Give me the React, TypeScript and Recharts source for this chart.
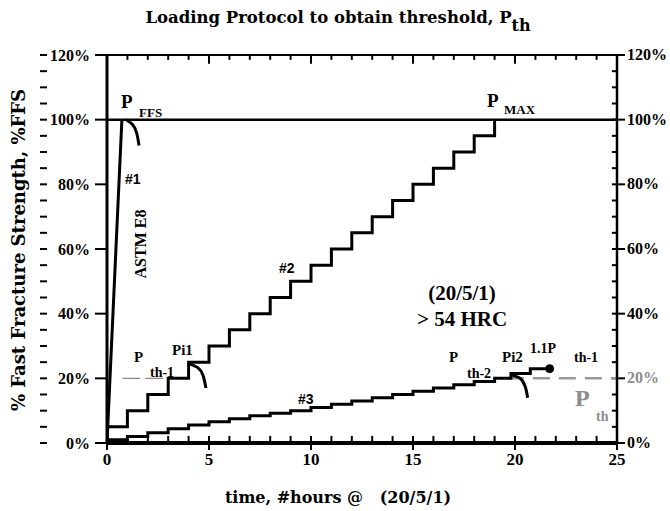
import React from 'react';
import { LineChart, Line, XAxis, YAxis, ReferenceDot, ReferenceLine } from 'recharts';

// axis ticks
const X_TICKS = [0, 5, 10, 15, 20, 25];
const X_MINOR = [0, 1, 2, 3, 4, 5, 6, 7, 8, 9, 10, 11, 12, 13, 14, 15, 16, 17, 18, 19, 20, 21, 22, 23, 24, 25];
const Y_TICKS = [0, 20, 40, 60, 80, 100, 120];
const Y_MINOR = [0, 5, 10, 15, 20, 25, 30, 35, 40, 45, 50, 55, 60, 65, 70, 75, 80, 85, 90, 95, 100, 105, 110, 115, 120];

// #1 ASTM E8 ramp
const astmHours = [0, 0.73];
const astmLoad = [0, 100];
// P_FFS / P_MAX level
const ffsHours = [0, 25];
const ffsLoad = [100, 100];
// #2 step loading
const step2Hours = [0, 0, 1, 2, 3, 4, 5, 6, 7, 8, 9, 10, 11, 12, 13, 14, 15, 16, 17, 18, 19];
const step2Load = [0, 5, 10, 15, 20, 25, 30, 35, 40, 45, 50, 55, 60, 65, 70, 75, 80, 85, 90, 95, 100];
// #3 step loading
const step3Hours = [0, 0, 1, 2, 3, 4, 5, 6, 7, 8, 9, 10, 11, 12, 13, 14, 15, 16, 17, 18, 19, 19.8, 20.75, 21.7];
const step3Load = [0, 1, 2, 3.2, 4.4, 5.6, 6.6, 7.5, 8.4, 9.2, 10, 11, 12, 13, 14, 15, 16, 17, 18, 19, 20, 21.5, 23, 23];
// fracture arcs
const ffsArcHours = [0.95, 1.25, 1.45, 1.57];
const ffsArcLoad = [100, 98.5, 96, 92];
const pi1ArcHours = [4.05, 4.45, 4.7, 4.85];
const pi1ArcLoad = [24.5, 23.3, 21, 17];
const pi2ArcHours = [19.85, 20.25, 20.5, 20.62];
const pi2ArcLoad = [21, 20, 17.5, 14];
// threshold guides
const thHours = [0.75, 3];
const thLoad = [20, 20];
const pthHours = [19.6, 25];
const pthLoad = [20, 20];

const toPts = (xs: number[], ys: number[]) => xs.map((x, i) => ({ x, y: ys[i] }));

const SERIF = '"Liberation Serif", "Times New Roman", serif';
const WIDE_SERIF = '"DejaVu Serif", serif';
const SANS = '"Liberation Sans", Arial, sans-serif';

const W = 670;
const H = 511;

const RightTick = (props: any) => {
  const { x, y, payload } = props;
  return (
    <text x={x} y={y} dy={5} textAnchor="start" fontFamily={SERIF} fontWeight="bold" fontSize={16}
      fill={payload.value === 20 ? '#8c8c8c' : '#000'}>
      {payload.value + '%'}
    </text>
  );
};

// minor axis draws only tick marks
const EmptyTick = () => <g />;

const lineProps = {
  xAxisId: 'x',
  yAxisId: 'y',
  dataKey: 'y',
  stroke: '#000',
  strokeWidth: 3,
  dot: false,
  isAnimationActive: false,
  legendType: 'none' as const,
};

const tickLn = { stroke: '#000', strokeWidth: 2 };

// inward frame ticks (top, bottom, right) as short segments in data units
const frameTicks = [
  ...X_MINOR.map((h) => [{ x: h, y: 120 }, { x: h, y: X_TICKS.includes(h) ? 117.3 : 118.5 }]),
  ...X_MINOR.map((h) => [{ x: h, y: 0 }, { x: h, y: 2.2 }]),
  ...Y_MINOR.map((v) => [{ x: 25, y: v }, { x: 24.75, y: v }]),
];

function Annotations() {
  const b = { fontFamily: SERIF, fontWeight: 'bold' as const, fill: '#000' };
  return (
    <svg width={W} height={H} style={{ position: 'absolute', left: 0, top: 0, pointerEvents: 'none' }}>
      <text x={338} y={23} textAnchor="middle" fontFamily={WIDE_SERIF} fontWeight="bold" fontSize={16.5}>
        Loading Protocol to obtain threshold, P<tspan fontSize={16} dy={8}>th</tspan>
      </text>
      <text x={338} y={503} textAnchor="middle" fontFamily={WIDE_SERIF} fontWeight="bold" fontSize={16}>
        time, #hours @{'\u00a0\u00a0\u00a0'}(20/5/1)
      </text>
      <text x={0} y={0} transform="translate(25,250) rotate(-90)" textAnchor="middle" fontFamily={WIDE_SERIF}
        fontWeight="bold" fontSize={18}>
        % Fast Fracture Strength, %FFS
      </text>

      <text x={121} y={108} {...b} fontSize={19}>P</text>
      <text x={139} y={117} {...b} fontSize={13}>FFS</text>
      <text x={487} y={107} {...b} fontSize={19}>P</text>
      <text x={504} y={114} {...b} fontSize={13}>MAX</text>

      <text x={125} y={184} fontFamily={SANS} fontWeight="bold" fontSize={14}>#1</text>
      <text x={0} y={0} transform="translate(146,244) rotate(-90)" textAnchor="middle" {...b} fontSize={16}>ASTM E8</text>
      <text x={279} y={273} fontFamily={SANS} fontWeight="bold" fontSize={14}>#2</text>
      <text x={298} y={404} fontFamily={SANS} fontWeight="bold" fontSize={14}>#3</text>

      <text x={462} y={300} textAnchor="middle" {...b} fontSize={21}>(20/5/1)</text>
      <text x={462} y={326} textAnchor="middle" {...b} fontSize={21}>&gt; 54 HRC</text>

      <text x={134} y={362} {...b} fontSize={15}>P</text>
      <text x={150} y={377} {...b} fontSize={14}>th-1</text>
      <text x={172} y={355} {...b} fontSize={15}>Pi1</text>

      <text x={449} y={362} {...b} fontSize={15}>P</text>
      <text x={467} y={378} {...b} fontSize={14}>th-2</text>
      <text x={502} y={362} {...b} fontSize={15}>Pi2</text>
      <text x={530} y={353} {...b} fontSize={14}>1.1P</text>
      <text x={574} y={362} {...b} fontSize={14}>th-1</text>

      <text x={575} y={406} fontFamily={SERIF} fontWeight="bold" fontSize={24} fill="#8c8c8c">P</text>
      <text x={596} y={421} fontFamily={SERIF} fontWeight="bold" fontSize={14} fill="#8c8c8c">th</text>
    </svg>
  );
}

export default function App() {
  return (
    <div style={{ position: 'absolute', left: 0, top: 0, width: W, height: H, background: '#fff' }}>
      <LineChart width={W} height={H} margin={{ top: 55, right: 0, bottom: 38, left: 46 }}>
        <XAxis xAxisId="x" type="number" dataKey="x" domain={[0, 25]} ticks={X_TICKS} allowDataOverflow
          height={30} axisLine={{ stroke: '#000', strokeWidth: 4 }} tickLine={tickLn}
          tickSize={7} tickMargin={3}
          tick={{ fontFamily: SERIF, fontWeight: 'bold', fontSize: 17, fill: '#000' }} />

        <YAxis yAxisId="ym" type="number" domain={[0, 120]} ticks={Y_MINOR} interval={0} allowDataOverflow width={1}
          axisLine={false} tick={<EmptyTick />} tickSize={7} tickLine={tickLn} />
        <YAxis yAxisId="y" type="number" domain={[0, 120]} ticks={Y_TICKS} allowDataOverflow width={60}
          axisLine={{ stroke: '#000', strokeWidth: 3 }} tickLine={tickLn}
          tickSize={12} tickMargin={5} tickFormatter={(v: number) => v + '%'}
          tick={{ fontFamily: SERIF, fontWeight: 'bold', fontSize: 16, fill: '#000' }} />
        <YAxis yAxisId="yr" orientation="right" type="number" domain={[0, 120]} ticks={Y_TICKS} allowDataOverflow
          width={53} axisLine={{ stroke: '#000', strokeWidth: 2.5 }} tickLine={tickLn}
          tickSize={8} tickMargin={2} tick={<RightTick />} />

        <ReferenceLine xAxisId="x" yAxisId="y" segment={[{ x: 0, y: 120 }, { x: 25, y: 120 }]}
          stroke="#000" strokeWidth={2} ifOverflow="visible" />
        {frameTicks.map((seg, i) => (
          <ReferenceLine key={i} xAxisId="x" yAxisId="y" segment={seg} stroke="#000" strokeWidth={2}
            ifOverflow="visible" />
        ))}

        <Line {...lineProps} data={toPts(thHours, thLoad)} stroke="#8c8c8c" strokeWidth={1.2} strokeDasharray="18 5" />
        <Line {...lineProps} data={toPts(pthHours, pthLoad)} stroke="#999" strokeWidth={2.5} strokeDasharray="17 9" />
        <Line {...lineProps} data={toPts(ffsHours, ffsLoad)} strokeWidth={2.5} />
        <Line {...lineProps} data={toPts(astmHours, astmLoad)} />
        <Line {...lineProps} type="stepAfter" data={toPts(step2Hours, step2Load)} />
        <Line {...lineProps} type="stepAfter" data={toPts(step3Hours, step3Load)} />
        <Line {...lineProps} type="natural" data={toPts(ffsArcHours, ffsArcLoad)} />
        <Line {...lineProps} type="natural" data={toPts(pi1ArcHours, pi1ArcLoad)} />
        <Line {...lineProps} type="natural" data={toPts(pi2ArcHours, pi2ArcLoad)} />
        <ReferenceDot xAxisId="x" yAxisId="y" x={step3Hours[step3Hours.length - 1]} y={step3Load[step3Load.length - 1]}
          r={4} fill="#000" stroke="#000" />
      </LineChart>
      <Annotations />
    </div>
  );
}
